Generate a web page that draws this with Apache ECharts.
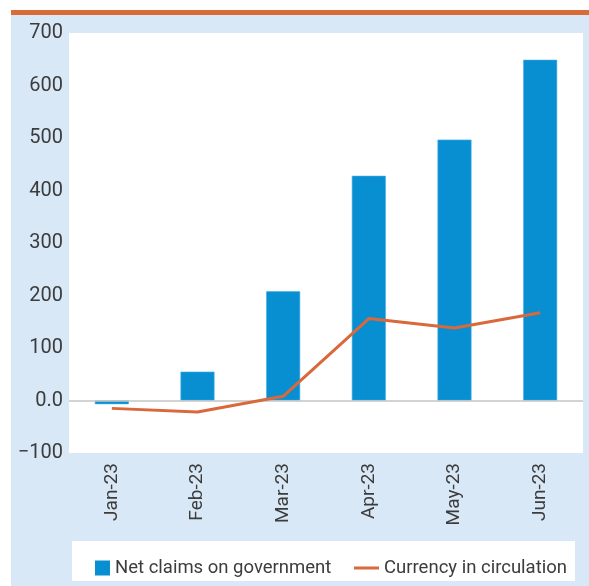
<!DOCTYPE html>
<html>
<head>
<meta charset="utf-8">
<script src="https://cdn.jsdelivr.net/npm/echarts@6/dist/echarts.min.js"></script>
<style>
  html, body { margin: 0; padding: 0; background: #ffffff; }
  #wrap { position: relative; width: 589px; height: 586px; overflow: hidden; }
  #panel { position: absolute; left: 11px; top: 15px; width: 578px; height: 571px; background: #D9E8F6; }
  #topbar { position: absolute; left: 11px; top: 10px; width: 578px; height: 5px; background: #D86B38; }
  #legbox { position: absolute; left: 72px; top: 541px; width: 503px; height: 40px; background: #ffffff; }
  #c { position: absolute; left: 0; top: 0; width: 589px; height: 586px; }
</style>
</head>
<body>
<div id="wrap">
  <div id="panel"></div>
  <div id="topbar"></div>
  <div id="legbox"></div>
  <div id="c"></div>
</div>
<script>
const categories = ['Jan-23', 'Feb-23', 'Mar-23', 'Apr-23', 'May-23', 'Jun-23'];
const netClaims = [-7, 55, 208, 428, 497, 649];
const currency = [-15, -22, 8, 156, 138, 167];
const seriesNames = ['Net claims on government', 'Currency in circulation'];

const FONT = 'Roboto, "Liberation Sans", sans-serif';
const TXT = '#3c3c3c';
const BAR = '#078FD2';
const LINE = '#D9693A';

const chart = echarts.init(document.getElementById('c'), null, { renderer: 'canvas' });
chart.setOption({
  backgroundColor: 'transparent',
  animation: false,
  textStyle: { fontFamily: FONT },
  grid: { left: 69, right: 6, top: 33, bottom: 133, show: true, backgroundColor: '#ffffff', borderWidth: 0, containLabel: false },
  legend: [
    {
      data: [seriesNames[0]], left: 90, top: 553, itemWidth: 15, itemHeight: 15, icon: 'rect',
      itemStyle: { color: BAR, borderWidth: 0 },
      textStyle: { fontFamily: FONT, fontSize: 18.5, color: TXT, lineHeight: 20 }
    },
    {
      data: [seriesNames[1]], left: 349, top: 553, itemWidth: 25, itemHeight: 3, icon: 'rect',
      itemStyle: { color: LINE, borderWidth: 0 },
      textStyle: { fontFamily: FONT, fontSize: 18.5, color: TXT, lineHeight: 20 }
    }
  ],
  xAxis: {
    type: 'category', data: categories,
    axisLine: { show: false, onZero: false }, axisTick: { show: false },
    axisLabel: { rotate: 90, margin: 10, fontSize: 19, color: TXT, fontFamily: FONT, interval: 0 }
  },
  yAxis: {
    type: 'value', min: -100, max: 700, interval: 100,
    axisLine: { show: false }, axisTick: { show: false }, splitLine: { show: false },
    axisLabel: {
      margin: 6, fontSize: 20, color: TXT, fontFamily: FONT,
      formatter: v => v === 0 ? '0.0' : (v < 0 ? '\u2212' + Math.abs(v) : String(v))
    }
  },
  series: [
    {
      name: seriesNames[0], type: 'bar', data: netClaims, barWidth: 34,
      itemStyle: { color: BAR, borderColor: '#4AAEE2', borderWidth: 0.6 },
      markLine: {
        silent: true, symbol: 'none', label: { show: false },
        lineStyle: { color: '#C4C4C4', width: 1.5, type: 'solid' },
        data: [{ yAxis: 0 }]
      }
    },
    {
      name: seriesNames[1], type: 'line', data: currency, symbol: 'none',
      lineStyle: { color: LINE, width: 3 }, itemStyle: { color: LINE }, z: 5
    }
  ]
});
</script>
</body>
</html>
